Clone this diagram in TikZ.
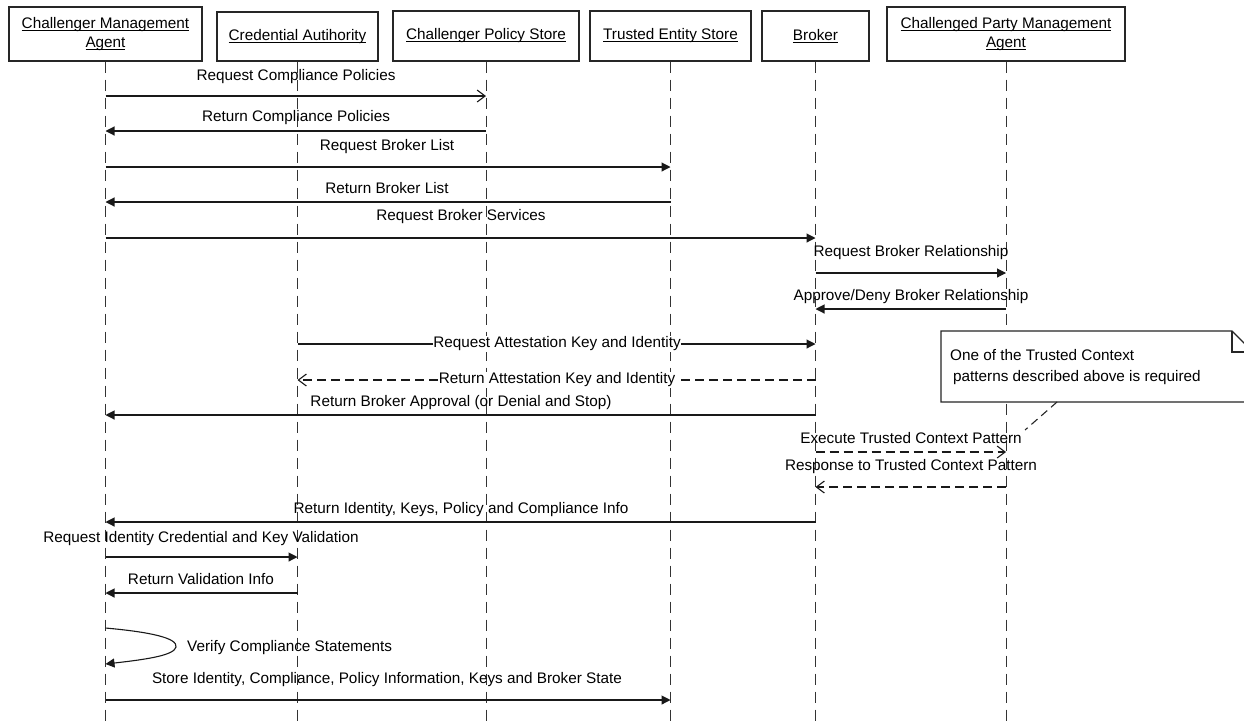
\documentclass[tikz,border=0pt]{standalone}
\usepackage{fontspec}
\setmainfont{Liberation Sans}
\usetikzlibrary{arrows.meta}
% underline that sits just under the baseline, crossing descenders
\newcommand\hul[1]{\setbox0\hbox{#1}\rlap{\rule[-2.2pt]{\wd0}{0.9pt}}\box0}
\begin{document}
\begin{tikzpicture}[x=1pt,y=-1pt,
  every node/.style={font=\fontsize{15.3}{19}\selectfont, text=black},
  head/.style={draw=black!85, line width=1.2pt, inner sep=0pt, align=center, fill=white},
  life/.style={draw=black!80, line width=1pt, dash pattern=on 11pt off 7pt},
  msg/.style={draw=black!90, line width=1.1pt},
  filled/.style={msg, -{Triangle[length=9pt,width=9pt]}},
  open/.style={msg, -{Straight Barb[length=8pt,width=12pt]}},
  reply/.style={open, dash pattern=on 9pt off 5pt},
  lbl/.style={inner sep=0pt, yshift=-1.5pt},
  onlbl/.style={inner sep=0.5pt, fill=white},
  notebox/.style={draw=black!85, line width=1.1pt, fill=white},
  notelink/.style={draw=black!85, line width=1.1pt, dash pattern=on 8pt off 5pt},
]
\useasboundingbox (0,0) rectangle (1244,721);
\clip (0,0) rectangle (1244,721);
\fill[white] (0,0) rectangle (1244,721);

% lifeline heads
\node[head, minimum width=193pt, minimum height=54pt] (cma) at (105.5,34)
  {\hul{Challenger Management}\\\hul{Agent}};
\node[head, minimum width=161pt, minimum height=49pt] (ca) at (297.5,36.5)
  {\hul{Credential Autihority}};
\node[head, minimum width=186pt, minimum height=50pt] (cps) at (486,36)
  {\hul{Challenger Policy Store}};
\node[head, minimum width=161pt, minimum height=50pt] (tes) at (670.5,36)
  {\hul{Trusted Entity Store}};
\node[head, minimum width=107pt, minimum height=50pt] (brk) at (815.5,36)
  {\hul{Broker}};
\node[head, minimum width=238pt, minimum height=54pt] (cpa) at (1006,34)
  {\hul{Challenged Party Management}\\\hul{Agent}};

% lifelines
\foreach \n in {cma,ca,cps,tes,brk,cpa}
  \draw[life] (\n.south) -- (\n.south |- 0,725);

% messages
\draw[open]   (cma |- 0,96)  -- (cps |- 0,96);
\node[lbl] (l1) at (296,75) {Request Compliance Policies};
\draw[filled] (cps |- 0,131) -- (cma |- 0,131);
\node[lbl] (l2) at (296,116) {Return Compliance Policies};
\draw[filled] (cma |- 0,167) -- (tes |- 0,167);
\node[lbl] (l3) at (387,145) {Request Broker List};
\draw[filled] (tes |- 0,202) -- (cma |- 0,202);
\node[lbl] (l4) at (387,187) {Return Broker List};
\draw[filled] (cma |- 0,238) -- (brk |- 0,238);
\node[lbl] (l5) at (461,215) {Request Broker Services};
\draw[filled] (brk |- 0,273) -- (cpa |- 0,273);
\node[lbl] (l6) at (911,251) {Request Broker Relationship};
\draw[filled] (cpa |- 0,309) -- (brk |- 0,309);
\node[lbl] (l7) at (911,295) {Approve/Deny Broker Relationship};
\draw[filled] (ca |- 0,344) -- (brk |- 0,344);
\node[onlbl] (l8) at (557,344) {Request Attestation Key and Identity};
\draw[reply]  (brk |- 0,380) -- (ca |- 0,380);
\node[onlbl] (l9) at (557,380) {Return Attestation Key and Identity};
\draw[filled] (brk |- 0,415) -- (cma |- 0,415);
\node[lbl] (l10) at (461,401) {Return Broker Approval (or Denial and Stop)};
\draw[reply]  (brk |- 0,452) -- (cpa |- 0,452);
\node[lbl] (l11) at (911,437) {Execute Trusted Context Pattern};
\draw[reply]  (cpa |- 0,487) -- (brk |- 0,487);
\node[lbl] (l12) at (911,465) {Response to Trusted Context Pattern};
\draw[filled] (brk |- 0,522) -- (cma |- 0,522);
\node[lbl] (l13) at (461,508) {Return Identity, Keys, Policy and Compliance Info};
\draw[filled] (cma |- 0,557) -- (ca |- 0,557);
\node[lbl] (l14) at (201,537) {Request Identity Credential and Key Validation};
\draw[filled] (ca |- 0,593) -- (cma |- 0,593);
\node[lbl] (l15) at (201,578) {Return Validation Info};

% self message
\coordinate (s1) at (cma |- 0,628);
\coordinate (s2) at (cma |- 0,664);
\draw[filled] (s1) .. controls (150,632) and (178,638) .. (176,647)
                   .. controls (174,655) and (150,659) .. (s2);
\node[lbl, anchor=west] (l16) at (187,646) {Verify Compliance Statements};

\draw[filled] (cma |- 0,700) -- (tes |- 0,700);
\node[lbl] (l17) at (387,678) {Store Identity, Compliance, Policy Information, Keys and Broker State};

% note with folded corner
\draw[notebox] (941,331) -- (1232,331) -- (1253,352) -- (1253,402) -- (941,402) -- cycle;
\draw[notebox, fill=none] (1232,331) -- (1232,352) -- (1253,352);
\node[lbl, anchor=west, align=left, font=\fontsize{15.3}{21}\selectfont] (note) at (950,366)
  {One of the Trusted Context\\\hspace{3pt}patterns described above is required};
\coordinate (notefoot) at (1057,402);
\coordinate (notetail) at (1025,430);
\draw[notelink] (notefoot) -- (notetail);
\end{tikzpicture}
\end{document}
